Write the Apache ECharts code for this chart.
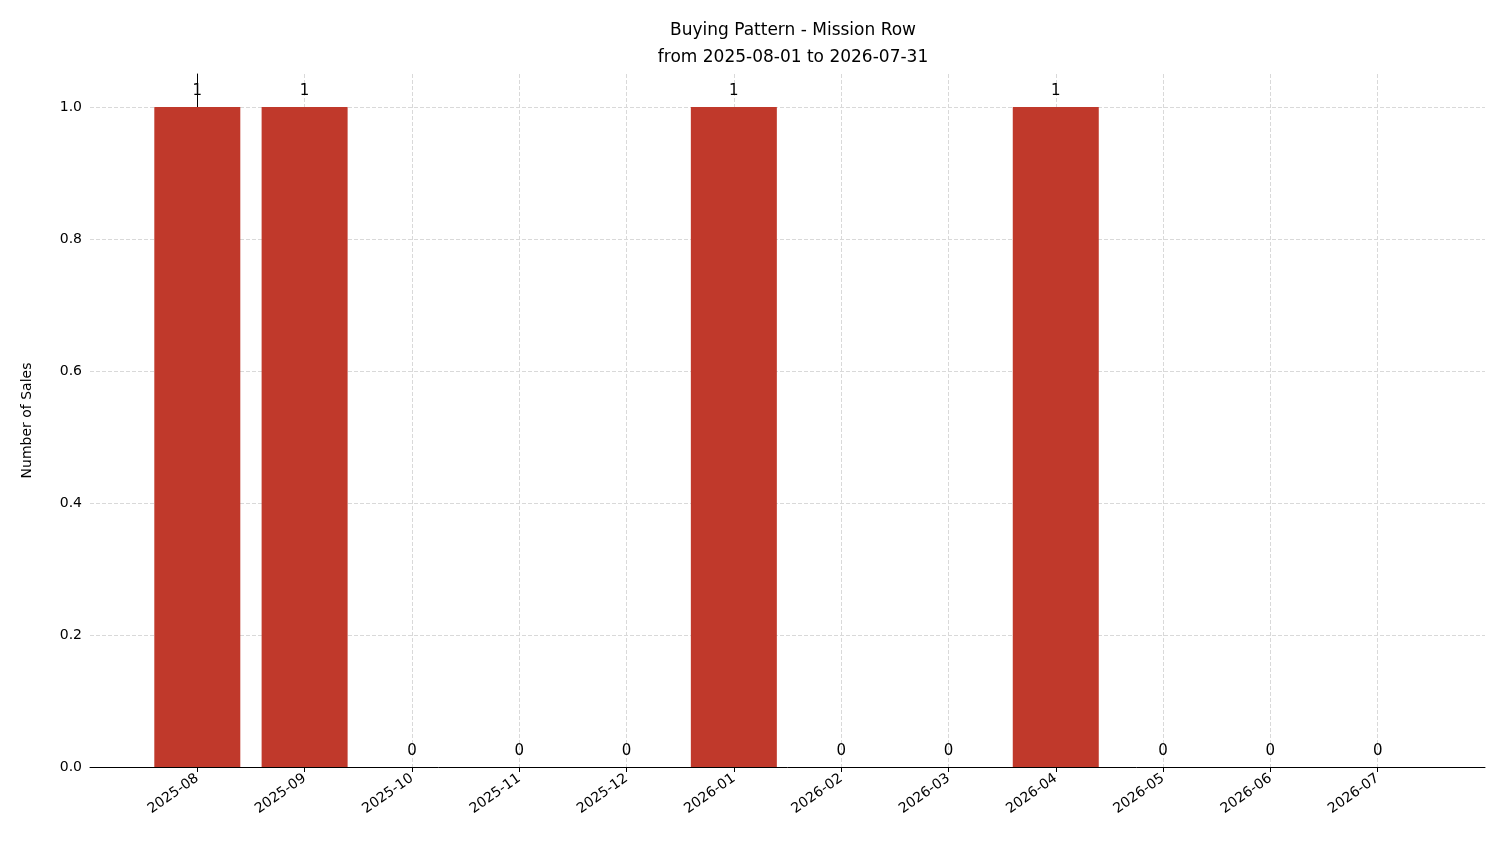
<!DOCTYPE html>
<html><head><meta charset="utf-8">
<script src="https://cdn.jsdelivr.net/npm/echarts@6/dist/echarts.min.js"></script>
<style>html,body{margin:0;padding:0;background:#fff}#c{width:1501px;height:863px}</style>
</head><body><div id="c"></div>
<script>
const categories = ['2025-08','2025-09','2025-10','2025-11','2025-12','2026-01','2026-02','2026-03','2026-04','2026-05','2026-06','2026-07'];
const sales = [1,1,0,0,0,1,0,0,1,0,0,0];
const yTicks = [0,0.2,0.4,0.6,0.8,1.0];
const idx = categories.map((c,i)=>i);
const chart = echarts.init(document.getElementById('c'));
const font = 'DejaVu Sans';
chart.setOption({
  animation:false,
  textStyle:{fontFamily:font},
  title:{text:'Buying Pattern - Mission Row\nfrom 2025-08-01 to 2026-07-31',left:788,top:12,textAlign:'center',
    textStyle:{fontFamily:font,fontWeight:'normal',fontSize:17,lineHeight:27,color:'#000'}},
  grid:{left:90,right:16,top:74,bottom:96},
  xAxis:{type:'value',min:-1,max:12,
    axisLine:{lineStyle:{color:'#000'}},
    axisTick:{customValues:idx,length:5,lineStyle:{color:'#000'}},
    axisLabel:{customValues:idx,rotate:35,fontSize:14,color:'#000',fontFamily:font,margin:10,
      formatter:v=>categories[Math.round(v)]||''},
    splitLine:{show:true,lineStyle:{type:'dashed',color:'#d9d9d9'}}},
  yAxis:{type:'value',min:0,max:1.05,name:'Number of Sales',nameLocation:'middle',nameGap:56,
    nameTextStyle:{fontSize:14,color:'#000',fontFamily:font},
    axisLine:{show:true,lineStyle:{color:'#000'}},
    axisTick:{show:true,customValues:yTicks,length:5,lineStyle:{color:'#000'}},
    axisLabel:{customValues:yTicks,fontSize:14,color:'#000',fontFamily:font,formatter:v=>v.toFixed(1)},
    splitLine:{show:true,lineStyle:{type:'dashed',color:'#d9d9d9'}}},
  series:[{type:'bar',data:sales.map((v,i)=>[i,v]),barWidth:86,itemStyle:{color:'#c0392b'},
    label:{show:true,position:'top',distance:8,fontSize:15,color:'#000',fontFamily:font,formatter:p=>String(p.value[1])}}]
});
</script></body></html>
